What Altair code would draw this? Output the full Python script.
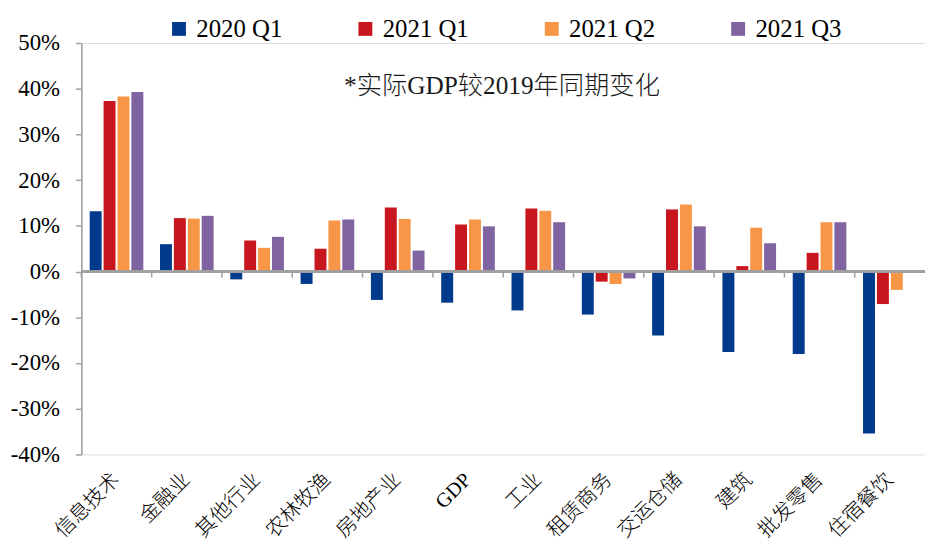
import altair as alt
import pandas as pd

categories = ["信息技术", "金融业", "其他行业", "农林牧渔", "房地产业", "GDP",
              "工业", "租赁商务", "交运仓储", "建筑", "批发零售", "住宿餐饮"]
series_names = ["2020 Q1", "2021 Q1", "2021 Q2", "2021 Q3"]
v_2020q1 = [13.2, 6.0, -1.7, -2.7, -6.2, -6.8, -8.5, -9.4, -14.0, -17.6, -18.0, -35.4]
v_2021q1 = [37.3, 11.7, 6.8, 5.0, 14.0, 10.3, 13.8, -2.2, 13.6, 1.2, 4.1, -7.1]
v_2021q2 = [38.3, 11.6, 5.2, 11.2, 11.5, 11.4, 13.3, -2.7, 14.7, 9.6, 10.8, -4.0]
v_2021q3 = [39.3, 12.2, 7.6, 11.4, 4.6, 9.9, 10.8, -1.5, 9.9, 6.2, 10.8, 0.3]
colors = ["#003A8C", "#C8161E", "#F79646", "#8064A2"]
y_ticks = [-40, -30, -20, -10, 0, 10, 20, 30, 40, 50]
note = "*实际GDP较2019年同期变化"

rows = []
for s, vals in zip(series_names, [v_2020q1, v_2021q1, v_2021q2, v_2021q3]):
    for c, v in zip(categories, vals):
        rows.append({"cat": c, "series": s, "value": v})
df = pd.DataFrame(rows)
cat_df = pd.DataFrame({"cat": categories})

FONT = "'Liberation Serif', 'Noto Sans CJK SC'"
GREY = "#A0A0A0"

x_enc = alt.X(
    "cat:N", sort=categories,
    scale=alt.Scale(paddingInner=0, paddingOuter=0),
    axis=alt.Axis(title=None, domain=False, ticks=False, labelAngle=-45,
                  labelAlign="right", labelBaseline="middle", labelPadding=22,
                  labelFontSize=20.5, labelFont=FONT, labelFontWeight=300,
                  labelColor="black"),
)
y_scale = alt.Scale(domain=[-40, 50], nice=False, zero=True)

bars = alt.Chart(df).mark_bar().encode(
    x=x_enc,
    xOffset=alt.XOffset("series:N", sort=series_names,
                        scale=alt.Scale(paddingInner=0.14, paddingOuter=0.6)),
    y=alt.Y("value:Q", scale=y_scale,
            axis=alt.Axis(title=None, values=y_ticks, labelExpr="datum.value + '%'",
                          grid=False, domainColor=GREY, domainWidth=1.5,
                          tickColor=GREY, tickSize=6, tickWidth=1.5,
                          labelFontSize=23, labelPadding=16, labelFont=FONT,
                          labelColor="black")),
    color=alt.Color("series:N", sort=series_names,
                    scale=alt.Scale(domain=series_names, range=colors),
                    legend=alt.Legend(title=None, orient="none", legendX=86, legendY=-27,
                                      direction="horizontal", symbolType="square",
                                      symbolSize=196, symbolStrokeWidth=0,
                                      labelFontSize=25, labelFont=FONT,
                                      labelColor="black", columnPadding=71,
                                      labelOffset=5)),
)

zero_line = alt.Chart(cat_df).mark_rule(color=GREY, strokeWidth=2).encode(
    y=alt.datum(0)
)

sep_ticks = alt.Chart(cat_df).mark_rule(color=GREY, strokeWidth=1.5).encode(
    x=alt.X("cat:N", sort=categories, bandPosition=0),
    y=alt.datum(0),
    y2=alt.datum(-1.3),
)

annotation = alt.Chart(cat_df).transform_filter(
    alt.datum.cat == categories[0]
).mark_text(align="left", baseline="middle", fontSize=25.5, font=FONT,
            fontWeight=300, color="#1a1a1a").encode(
    x=alt.value(265), y=alt.value(43), text=alt.value(note)
)

chart = alt.layer(bars, zero_line, sep_ticks, annotation).properties(
    width=851, height=415,
    padding={"left": 74, "top": 33, "right": 0, "bottom": 88},
    autosize=alt.AutoSizeParams(type="none"),
).configure_view(stroke=None).configure(background="white")

chart.save("out.html", embed_options={"renderer": "svg", "actions": False})
